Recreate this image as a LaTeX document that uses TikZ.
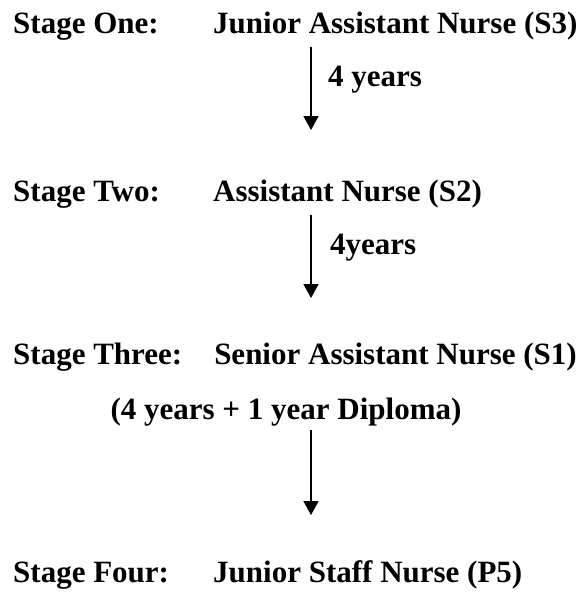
\documentclass[tikz,border=0pt]{standalone}
\usepackage{fontspec}
\setmainfont{Liberation Serif}
\usetikzlibrary{arrows.meta,positioning}
\tikzset{
  stagetxt/.style = {anchor=base west, inner sep=0pt,
                     font=\fontsize{31}{37}\selectfont\bfseries},
  flow/.style     = {-{Triangle[width=15pt,length=14pt]}, line width=1.8pt},
}

\begin{document}
\begin{tikzpicture}[x=1pt,y=-1pt]
  \useasboundingbox (0,0) rectangle (582,592);
  \node[stagetxt] (one)   at (13,33)  {Stage One:};
  \node[stagetxt] (jan)   at (213,33) {Junior Assistant Nurse (S3)};
  \node[stagetxt] (two)   at (13,201) {Stage Two:};
  \node[stagetxt] (an)    at (213,201) {Assistant Nurse (S2)};
  \node[stagetxt] (three) at (13,364) {Stage Three:};
  \node[stagetxt,anchor=base east] (san) at (577,364) {Senior Assistant Nurse (S1)};
  \node[stagetxt,anchor=base] (dipl) at (286,419) {(4 years + 1 year Diploma)};
  \node[stagetxt] (four)  at (13,582) {Stage Four:};
  \node[stagetxt] (jsn)   at (213,582) {Junior Staff Nurse (P5)};

  \coordinate (t1) at (311,47);  \coordinate (h1) at (311,130);
  \coordinate (t2) at (311,215); \coordinate (h2) at (311,298);
  \coordinate (t3) at (311,430); \coordinate (h3) at (311,515);
  \draw[flow] (t1) -- (h1);
  \draw[flow] (t2) -- (h2);
  \draw[flow] (t3) -- (h3);
  \node[stagetxt] (y1) at (328,86)  {4 years};
  \node[stagetxt] (y2) at (330,254) {4years};
\end{tikzpicture}
\end{document}
